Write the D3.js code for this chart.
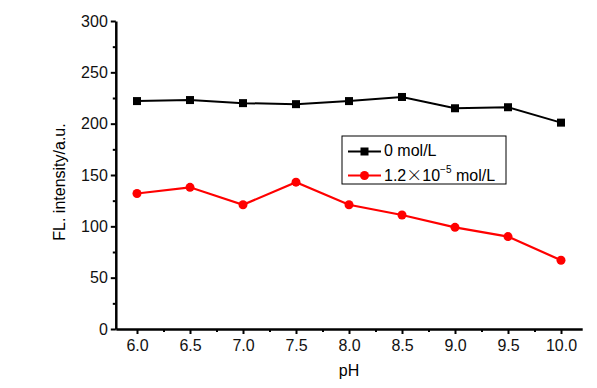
<!DOCTYPE html>
<html>
<head>
<meta charset="utf-8">
<script src="https://cdn.jsdelivr.net/npm/d3@7"></script>
<style>
  body { margin: 0; background: #fff; }
  text { font-family: "Liberation Sans", Arial, sans-serif; }
</style>
</head>
<body>
<div id="chart"></div>
<script>
const pH = [6.0, 6.5, 7.0, 7.5, 8.0, 8.5, 9.0, 9.5, 10.0];
const blank = [222, 223, 220, 219, 222, 226, 215, 216, 201];
const withIon = [132, 138, 121, 143, 121, 111, 99, 90, 67];
const seriesNames = ["0 mol/L", "1.2", "×", "10", "−5", " mol/L"];
const yTicks = [0, 50, 100, 150, 200, 250, 300];

const width = 597;
const height = 388;
const fontSize = 16;

const svg = d3.select("#chart")
  .append("svg")
  .attr("width", width)
  .attr("height", height);

const x = d3.scaleLinear()
  .domain([5.8, 10.2])
  .range([115.8, 582.2]);

const y = d3.scaleLinear()
  .domain([0, 300])
  .range([329, 21]);

// minor ticks
svg.append("g")
  .attr("transform", `translate(0,${y(0)})`)
  .call(d3.axisBottom(x).tickValues(d3.range(6.25, 10, 0.5)).tickSize(3).tickFormat(""))
  .call(g => g.select(".domain").remove())
  .call(g => g.selectAll("line").attr("stroke-width", 2));

svg.append("g")
  .attr("transform", `translate(${x(5.8)},0)`)
  .call(d3.axisLeft(y).tickValues(d3.range(25, 300, 50)).tickSize(3).tickFormat(""))
  .call(g => g.select(".domain").remove())
  .call(g => g.selectAll("line").attr("stroke-width", 2));

// major axes
svg.append("g")
  .attr("transform", `translate(0,${y(0)})`)
  .call(d3.axisBottom(x).tickValues(pH).tickSize(5).tickSizeOuter(0).tickPadding(6).tickFormat(d3.format(".1f")))
  .call(g => g.select(".domain").attr("stroke-width", 2.5))
  .call(g => g.selectAll("line").attr("stroke-width", 2))
  .call(g => g.selectAll("text").attr("font-size", fontSize).attr("fill", "#111"));

svg.append("g")
  .attr("transform", `translate(${x(5.8)},0)`)
  .call(d3.axisLeft(y).tickValues(yTicks).tickSize(5).tickSizeOuter(0).tickPadding(3))
  .call(g => g.select(".domain").attr("stroke-width", 2.5))
  .call(g => g.selectAll("line").attr("stroke-width", 2))
  .call(g => g.selectAll("text").attr("font-size", fontSize).attr("fill", "#111"));

// axis titles
svg.append("text")
  .attr("x", x(8))
  .attr("y", 376)
  .attr("text-anchor", "middle")
  .attr("font-size", fontSize)
  .text("pH");

svg.append("text")
  .attr("transform", `translate(65,182) rotate(-90)`)
  .attr("text-anchor", "middle")
  .attr("font-size", fontSize)
  .text("FL. intensity/a.u.");

const line = d3.line()
  .x((d, i) => x(pH[i]))
  .y(d => y(d));

// black series
svg.append("path")
  .datum(blank)
  .attr("fill", "none")
  .attr("stroke", "#000")
  .attr("stroke-width", 2)
  .attr("d", line);

svg.append("g")
  .selectAll("rect")
  .data(blank)
  .join("rect")
  .attr("x", (d, i) => x(pH[i]) - 4)
  .attr("y", d => y(d) - 4)
  .attr("width", 8)
  .attr("height", 8)
  .attr("fill", "#000");

// red series
svg.append("path")
  .datum(withIon)
  .attr("fill", "none")
  .attr("stroke", "#ff0000")
  .attr("stroke-width", 2.2)
  .attr("d", line);

svg.append("g")
  .selectAll("circle")
  .data(withIon)
  .join("circle")
  .attr("cx", (d, i) => x(pH[i]))
  .attr("cy", d => y(d))
  .attr("r", 4.5)
  .attr("fill", "#ff0000");

// legend
const legend = svg.append("g").attr("transform", "translate(342,136)");

legend.append("rect")
  .attr("width", 164)
  .attr("height", 48)
  .attr("fill", "#fff")
  .attr("stroke", "#000")
  .attr("stroke-width", 1);

legend.append("line")
  .attr("x1", 6).attr("x2", 39).attr("y1", 15.5).attr("y2", 15.5)
  .attr("stroke", "#000").attr("stroke-width", 2);
legend.append("rect")
  .attr("x", 18.5).attr("y", 11.5).attr("width", 8).attr("height", 8)
  .attr("fill", "#000");
legend.append("text")
  .attr("x", 42).attr("y", 20)
  .attr("font-size", fontSize)
  .text(seriesNames[0]);

legend.append("line")
  .attr("x1", 6).attr("x2", 39).attr("y1", 39.5).attr("y2", 39.5)
  .attr("stroke", "#ff0000").attr("stroke-width", 2.2);
legend.append("circle")
  .attr("cx", 22.5).attr("cy", 39.5).attr("r", 4.5)
  .attr("fill", "#ff0000");
const t2 = legend.append("text")
  .attr("x", 42).attr("y", 45)
  .attr("font-size", fontSize);
t2.append("tspan").text(seriesNames[1]);
t2.append("tspan").attr("font-family", "Noto Sans CJK SC").attr("font-weight", 300).text(seriesNames[2]);
t2.append("tspan").text(seriesNames[3]);
t2.append("tspan").attr("dy", -8).attr("font-size", 10).text(seriesNames[4]);
t2.append("tspan").attr("dy", 8).text(seriesNames[5]);
</script>
</body>
</html>
